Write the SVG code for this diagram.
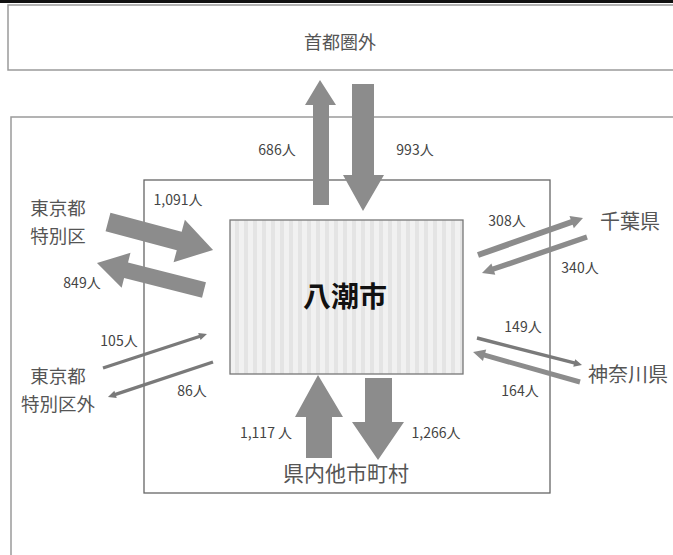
<svg xmlns="http://www.w3.org/2000/svg" width="673" height="555" viewBox="0 0 673 555">
<defs>
<pattern id="stripes" x="230" y="0" width="9" height="10" patternUnits="userSpaceOnUse">
<rect width="9" height="10" fill="#f1f1f1"/>
<rect x="5" width="4" height="10" fill="#e4e4e4"/>
</pattern>
</defs>
<style>
.frame{fill:none;stroke:#9a9a9a;stroke-width:1.5}
.mid{fill:none;stroke:#666;stroke-width:1.3}
.arrow{fill:#8c8c8c}
.thin{fill:#7a7a7a}
.lbl{font-family:"Noto Sans CJK JP","Liberation Sans",sans-serif;font-size:14px;fill:#444;text-anchor:middle}
.reg{font-family:"Noto Sans CJK JP","Liberation Sans",sans-serif;font-size:20px;fill:#555;text-anchor:middle}
.reg2{font-family:"Noto Sans CJK JP","Liberation Sans",sans-serif;font-size:18.5px;fill:#555;text-anchor:middle}
.city{font-family:"Noto Sans CJK JP","Liberation Sans",sans-serif;font-size:28px;font-weight:bold;fill:#111;text-anchor:middle}
</style>
<rect x="0" y="0" width="673" height="3" fill="#111"/>
<g id="shutoken-gai">
<rect class="frame" x="8" y="5" width="680" height="65"/>
<text class="reg" x="340" y="49" style="font-size:18px">首都圏外</text>
</g>
<rect id="outer" class="frame" x="11" y="117" width="680" height="460"/>
<rect id="middle" class="mid" x="144" y="180" width="406" height="313"/>
<g id="yashio">
<rect x="230" y="220" width="233" height="154" fill="url(#stripes)" stroke="#777" stroke-width="1.3"/>
<text class="city" x="345" y="307">八潮市</text>
</g>
<g id="tokyo-ku">
<text class="reg2" x="58" y="215">東京都</text>
<text class="reg2" x="58" y="243">特別区</text>
</g>
<g id="tokyo-gai">
<text class="reg2" x="58" y="383">東京都</text>
<text class="reg2" x="58" y="411">特別区外</text>
</g>
<g id="chiba">
<text class="reg" x="630" y="229">千葉県</text>
</g>
<g id="kanagawa">
<text class="reg" x="588" y="382" style="text-anchor:start">神奈川県</text>
</g>
<g id="kennai">
<text class="reg" x="346" y="481" style="font-size:21px">県内他市町村</text>
</g>
<g id="connectors">
<!-- 686 up -->
<polygon class="arrow" points="313,205 313,105 305,105 320,80 336,105 329,105 329,205"/>
<!-- 993 down -->
<polygon class="arrow" points="352,84 374,84 374,175 384,175 363,211 343,175 352,175"/>
<!-- 1,091 -->
<path class="arrow" transform="translate(108,222) rotate(14.9)" d="M0,-9.5 L73.7,-9.5 L73.7,-22 L108.7,0 L73.7,22 L73.7,9.5 L0,9.5 Z"/>
<!-- 849 -->
<path class="arrow" transform="translate(204,290) rotate(194.2)" d="M0,-8 L80.4,-8 L80.4,-18 L110.4,0 L80.4,18 L80.4,8 L0,8 Z"/>
<!-- 308 -->
<path class="arrow" transform="translate(478,255) rotate(-19.4)" d="M0,-3 L99.3,-3 L99.3,-6.5 L111.3,0 L99.3,6.5 L99.3,3 L0,3 Z"/>
<!-- 340 -->
<path class="arrow" transform="translate(587,237) rotate(161.1)" d="M0,-2.7 L99,-2.7 L99,-6 L111,0 L99,6 L99,2.7 L0,2.7 Z"/>
<!-- 149 -->
<path class="thin" transform="translate(477,338) rotate(14.4)" d="M0,-1.7 L100.4,-1.7 L100.4,-3.8 L108.4,0 L100.4,3.8 L100.4,1.7 L0,1.7 Z"/>
<!-- 164 -->
<path class="arrow" transform="translate(580,382) rotate(195.7)" d="M0,-2.5 L99.1,-2.5 L99.1,-6 L111.1,0 L99.1,6 L99.1,2.5 L0,2.5 Z"/>
<!-- 105 -->
<path class="thin" transform="translate(103,368) rotate(-18.1)" d="M0,-1.7 L101.4,-1.7 L101.4,-3.8 L109.4,0 L101.4,3.8 L101.4,1.7 L0,1.7 Z"/>
<!-- 86 -->
<path class="thin" transform="translate(213,362) rotate(161.6)" d="M0,-1.7 L102.7,-1.7 L102.7,-3.8 L110.7,0 L102.7,3.8 L102.7,1.7 L0,1.7 Z"/>
<!-- 1,117 up -->
<polygon class="arrow" points="306,458 306,417 295,417 318,375 343,417 332,417 332,458"/>
<!-- 1,266 down -->
<polygon class="arrow" points="365,378 392,378 392,422 404,422 378,460 352,422 365,422"/>
</g>
<g id="labels">
<text class="lbl" x="277" y="155">686人</text>
<text class="lbl" x="415" y="155">993人</text>
<text class="lbl" x="178" y="205">1,091人</text>
<text class="lbl" x="82" y="288">849人</text>
<text class="lbl" x="507" y="226">308人</text>
<text class="lbl" x="580" y="273">340人</text>
<text class="lbl" x="523" y="332">149人</text>
<text class="lbl" x="520" y="396">164人</text>
<text class="lbl" x="119" y="346">105人</text>
<text class="lbl" x="192" y="396">86人</text>
<text class="lbl" x="266" y="438">1,117 人</text>
<text class="lbl" x="436" y="438">1,266人</text>
</g>
</svg>
